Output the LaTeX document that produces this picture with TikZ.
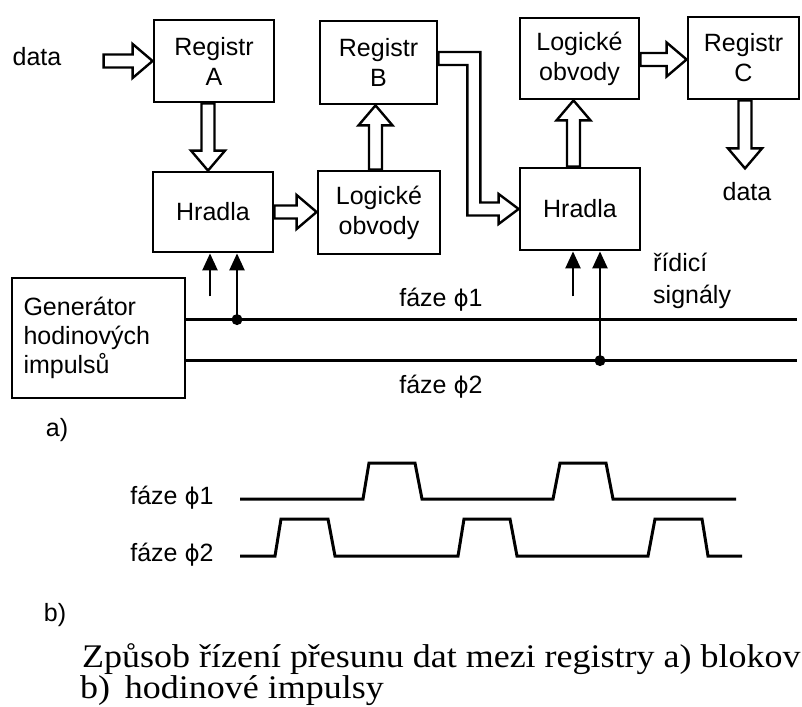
\documentclass[tikz,border=0pt]{standalone}
\usepackage{fontspec}
\setmainfont{Liberation Sans}
\newfontfamily\capfont[FakeStretch=1.09]{Liberation Serif}
\newfontfamily\phifont{DejaVu Sans}
\usetikzlibrary{arrows.meta,calc}
\pgfdeclarelayer{bg}
\pgfsetlayers{bg,main}
\newcommand\dfont{\fontsize{25}{30}\selectfont}
\newcommand\fph{{\phifont\fontsize{23}{30}\selectfont ϕ}}
% horizontal hollow block arrow: tail #1, tip #2 (same y), #3 = 1 right, -1 left
\newcommand\hblk[3]{\draw[hollow] ($(#1)+(0,-6.5)$) -- ($(#2)+({-(#3)*20},-6.5)$) -- ($(#2)+({-(#3)*20},-17)$) -- (#2) -- ($(#2)+({-(#3)*20},17)$) -- ($(#2)+({-(#3)*20},6.5)$) -- ($(#1)+(0,6.5)$) -- cycle;}
% vertical hollow block arrow: tail #1, tip #2 (same x), #3 = 1 down, -1 up
\newcommand\vblk[3]{\draw[hollow] ($(#1)+(-6.5,0)$) -- ($(#2)+(-6.5,{-(#3)*20})$) -- ($(#2)+(-17,{-(#3)*20})$) -- (#2) -- ($(#2)+(17,{-(#3)*20})$) -- ($(#2)+(6.5,{-(#3)*20})$) -- ($(#1)+(6.5,0)$) -- cycle;}
\begin{document}
\begin{tikzpicture}[x=1pt,y=-1pt,
  box/.style={draw,line width=2.8pt,inner sep=0pt,align=center,font=\dfont},
  lbl/.style={font=\dfont,inner sep=0pt},
  capt/.style={font=\capfont\fontsize{33}{33}\selectfont,anchor=base west,inner sep=0pt},
  hollow/.style={draw,line width=2.4pt,fill=white,line join=miter},
  sig/.style={line width=2.4pt,-{Triangle[length=17pt,width=15pt]}},
  bus/.style={line width=3pt},
  wave/.style={line width=3pt,line join=miter},
  dot/.style={circle,fill,inner sep=0pt,minimum size=11pt}]
\useasboundingbox (0,0) rectangle (802,706);

% blocks
\node[box,minimum width=120pt,minimum height=82pt] (RA) at (214,61) {Registr\\A};
\node[box,minimum width=117pt,minimum height=83pt] (RB) at (378.5,62.5) {Registr\\B};
\node[box,minimum width=120pt,minimum height=80pt] (H1) at (213,212) {Hradla};
\node[box,minimum width=122pt,minimum height=83pt] (L1) at (379,212.5) {Logické\\obvody};
\node[box,minimum width=120pt,minimum height=82pt] (H2) at (580,209) {Hradla};
\node[box,minimum width=119pt,minimum height=81pt] (L2) at (579.5,58.5) {Logické\\obvody};
\node[box,minimum width=111pt,minimum height=82pt] (RC) at (743.5,58) {Registr\\C};
\node[box,minimum width=173pt,minimum height=120pt,text width=150pt,align=left,font=\fontsize{25}{29}\selectfont] (G) at (98.5,338) {Generátor\\hodinových\\impulsů};

% labels
\node[lbl] (din) at (37,57) {data};
\node[lbl] (dout) at (747,192) {data};
\node[lbl,anchor=west,align=left,font=\fontsize{25}{32}\selectfont] (ctl) at (653,281) {řídicí\\signály};
\node[lbl] (f1) at (441,300) {fáze \fph1};
\node[lbl] (f2) at (441,387) {fáze \fph2};
\node[lbl] (la) at (57,430) {a)};
\node[lbl] (lb) at (55,615) {b)};
\node[lbl] (t1) at (172,498) {fáze \fph1};
\node[lbl] (t2) at (172,555) {fáze \fph2};
\node[capt] (cap1) at (82,667) {Způsob řízení přesunu dat mezi registry a) blokov};
\node[capt] (cap2) at (80,698) {b)\hspace{0.45em}hodinové impulsy};

% hollow data arrows
\begin{pgfonlayer}{bg}
\coordinate (i2) at (RA.west);
\coordinate (i1) at ($(i2)+(-49,0)$);
\hblk{i1}{i2}{1}
\coordinate (a1) at ($(RA.south)+(-6,0)$);
\coordinate (a2) at (a1 |- H1.north);
\vblk{a1}{a2}{1}
\coordinate (c1) at (H1.east);
\coordinate (c2) at (c1 -| L1.west);
\hblk{c1}{c2}{1}
\coordinate (b1) at ($(L1.north)+(-3.5,0)$);
\coordinate (b2) at (b1 |- RB.south);
\vblk{b1}{b2}{-1}
\coordinate (e1) at ($(H2.north)+(-6.5,0)$);
\coordinate (e2) at (e1 |- L2.south);
\vblk{e1}{e2}{-1}
\coordinate (g1) at ($(L2.east)+(0,1)$);
\coordinate (g2) at (g1 -| RC.west);
\hblk{g1}{g2}{1}
\coordinate (h1) at ($(RC.south)+(1.5,0)$);
\coordinate (h2) at ($(h1)+(0,68)$);
\vblk{h1}{h2}{1}
% bent arrow Registr B -> Hradla
\coordinate (k1) at ($(RB.east)+(0,-4)$);
\coordinate (kb) at ($(k1)+(35.5,0)$);
\coordinate (k3) at (H2.west);
\draw[hollow] ($(k1)+(0,-6.5)$) -- ($(kb)+(6.5,-6.5)$) -- ($(kb|-k3)+(6.5,-6.5)$)
  -- ($(k3)+(-20,-6.5)$) -- ($(k3)+(-20,-15)$) -- (k3) -- ($(k3)+(-20,15)$)
  -- ($(k3)+(-20,6.5)$) -- ($(kb|-k3)+(-6.5,6.5)$) -- ($(kb)+(-6.5,6.5)$)
  -- ($(k1)+(0,6.5)$) -- cycle;
\end{pgfonlayer}

% clock buses
\coordinate (R) at (797,0);
\coordinate (p1s) at ($(G.north east)+(0,43)$);
\coordinate (p2s) at ($(G.north east)+(0,84)$);
\coordinate (p1e) at (R |- p1s);
\coordinate (p2e) at (R |- p2s);
\draw[bus] (p1s) -- (p1e);
\draw[bus] (p2s) -- (p2e);

% control signals
\coordinate (s0) at ($(H1.south)+(-3,0)$);
\coordinate (s0b) at ($(s0)+(0,43)$);
\draw[sig] (s0b) -- (s0);
\coordinate (s1) at ($(H1.south)+(24,0)$);
\node[dot] (d1) at (s1 |- p1s) {};
\draw[sig] (d1.center) -- (s1);
\coordinate (u0) at ($(H2.south)+(-7,0)$);
\coordinate (u0b) at ($(u0)+(0,45)$);
\draw[sig] (u0b) -- (u0);
\coordinate (u1) at ($(H2.south)+(20,0)$);
\node[dot] (d2) at (u1 |- p2s) {};
\draw[sig] (d2.center) -- (u1);

% timing diagram
\draw[wave] (240,499) -- (363,499) -- (369,463) -- (415,463) -- (422,499) -- (553,499)
  -- (560,463) -- (606,463) -- (613,499) -- (736,499);
\draw[wave] (240,556) -- (275,556) -- (281,519) -- (328,519) -- (335,556) -- (458,556)
  -- (464,519) -- (510,519) -- (517,556) -- (648,556) -- (655,519) -- (702,519)
  -- (708,556) -- (742,556);
\end{tikzpicture}
\end{document}
